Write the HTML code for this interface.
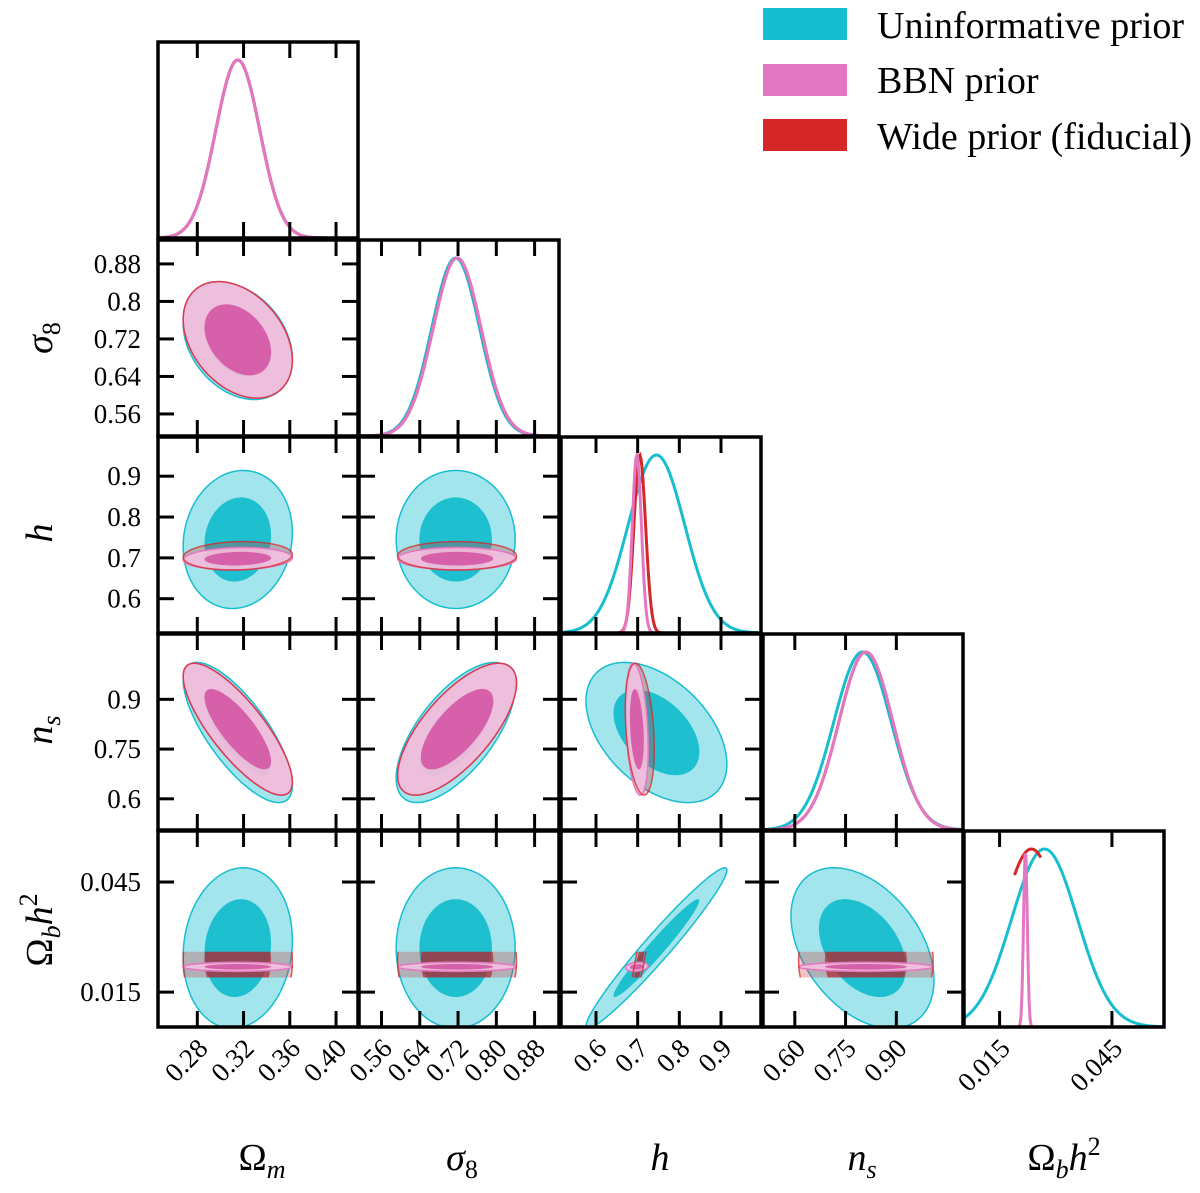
<!DOCTYPE html>
<html><head><meta charset="utf-8">
<style>
html,body{margin:0;padding:0;background:#fff;}
svg{display:block;font-family:"Liberation Serif","DejaVu Serif",serif;}
</style></head>
<body>
<svg id="chart" xmlns="http://www.w3.org/2000/svg" width="1200" height="1193" viewBox="0 0 1200 1193">
  <g id="panels"></g>
  <g id="legend">
    <rect x="763" y="8" width="84" height="32" fill="#17becf"/>
    <text x="877" y="38" font-size="38">Uninformative prior</text>
    <rect x="763" y="64" width="84" height="32" fill="#e377c2"/>
    <text x="877" y="93" font-size="38">BBN prior</text>
    <rect x="763" y="119" width="84" height="32" fill="#d62728"/>
    <text x="877" y="149" font-size="38">Wide prior (fiducial)</text>
  </g>
</svg>
<script>
// ---- data ----
const paramNames = ["Omega_m","sigma_8","h","n_s","Omega_b h^2"];
const axisMin = [0.246, 0.513, 0.516, 0.506, 0.0055];
const axisMax = [0.419, 0.931, 0.996, 1.097, 0.0589];
const ticksOm = [0.28, 0.32, 0.36, 0.40];
const ticksS8 = [0.56, 0.64, 0.72, 0.80, 0.88];
const ticksH = [0.6, 0.7, 0.8, 0.9];
const ticksNs = [0.60, 0.75, 0.90];
const ticksOb = [0.015, 0.045];
const xTickLabelsOm = ["0.28","0.32","0.36","0.40"];
const xTickLabelsS8 = ["0.56","0.64","0.72","0.80","0.88"];
const xTickLabelsH = ["0.6","0.7","0.8","0.9"];
const xTickLabelsNs = ["0.60","0.75","0.90"];
const xTickLabelsOb = ["0.015","0.045"];
const yTickLabelsS8 = ["0.56","0.64","0.72","0.8","0.88"];
const yTickLabelsH = ["0.6","0.7","0.8","0.9"];
const yTickLabelsNs = ["0.6","0.75","0.9"];
const yTickLabelsOb = ["0.015","0.045"];

// series: uninformative (cyan), BBN (pink), wide (red)
const meansCyan = [0.315, 0.715, 0.745, 0.80, 0.027];
const sdsCyan   = [0.019, 0.050, 0.068, 0.085, 0.0088];
const meansPink = [0.315, 0.718, 0.698, 0.81, 0.0219];
const sdsPink   = [0.019, 0.050, 0.011, 0.080, 0.0005];
const meansRed  = [0.315, 0.718, 0.705, 0.81, 0.0235];
const sdsRed    = [0.019, 0.050, 0.014, 0.080, 0.008];
// correlations in order: (0,1),(0,2),(0,3),(0,4),(1,2),(1,3),(1,4),(2,3),(2,4),(3,4)
const corrCyan = [-0.30, 0.10, -0.75, 0.10, 0.00, 0.65, 0.00, -0.45, 0.97, -0.40];
const corrPink = [-0.35, 0.10, -0.80, 0.00, 0.00, 0.70, 0.00, -0.30, 0.20, 0.00];
const corrRed  = [-0.35, 0.10, -0.80, 0.00, 0.00, 0.70, 0.00, -0.30, 0.95, 0.00];
const boundsLoRed = [null, null, null, null, 0.019];
const boundsHiRed = [null, null, null, null, 0.026];

// ---- layout ----
const colLeft = [158, 359, 561, 763, 964];
const rowTop = [42, 240, 437, 634, 831];
const PW = 200, PH = 196;
const ticksAll = [ticksOm, ticksS8, ticksH, ticksNs, ticksOb];
const xLabAll = [xTickLabelsOm, xTickLabelsS8, xTickLabelsH, xTickLabelsNs, xTickLabelsOb];
const yLabAll = [null, yTickLabelsS8, yTickLabelsH, yTickLabelsNs, yTickLabelsOb];

function xScale(p, v){ return colLeft[p] + (v-axisMin[p])/(axisMax[p]-axisMin[p])*PW; }
function yScale(p, v){ return rowTop[p] + PH - (v-axisMin[p])/(axisMax[p]-axisMin[p])*PH; }
function corrIdx(a,b){ if(a>b){const t=a;a=b;b=t;} const idx=[[0,0,1,2,3],[0,0,4,5,6],[0,0,0,7,8],[0,0,0,0,9]]; return idx[a][b]; }

const NS = "http://www.w3.org/2000/svg";
const root = document.getElementById('panels');
function mk(tag, attrs, parent){ const e=document.createElementNS(NS,tag); for(const k in attrs) e.setAttribute(k, attrs[k]); (parent||root).appendChild(e); return e; }

const defs = mk('defs', {}, document.getElementById('chart'));
const series = [
  {key:'uninformative', m:meansCyan, s:sdsCyan, c:corrCyan, lo:null, hi:null, stroke:'#17becf', fo:'rgba(23,190,207,0.4)', fi:'rgba(23,190,207,0.95)'},
  {key:'wide', m:meansRed, s:sdsRed, c:corrRed, lo:boundsLoRed, hi:boundsHiRed, stroke:'#d62728', fo:'rgba(214,39,40,0.28)', fi:'rgba(170,40,50,0.7)'},
  {key:'bbn', m:meansPink, s:sdsPink, c:corrPink, lo:null, hi:null, stroke:'#e377c2', fo:'rgba(242,192,224,0.92)', fi:'rgba(214,92,168,0.95)'}
];

function ellipsePath(S, px, py, r){
  const rho = S.c[corrIdx(px,py)];
  let d='';
  for(let k=0;k<=120;k++){
    const t=k/120*2*Math.PI;
    const vx=S.m[px]+S.s[px]*r*Math.cos(t);
    const vy=S.m[py]+S.s[py]*r*(rho*Math.cos(t)+Math.sqrt(1-rho*rho)*Math.sin(t));
    d+=(k?'L':'M')+xScale(px,vx).toFixed(2)+','+yScale(py,vy).toFixed(2);
  }
  return d+'Z';
}
function boundClip(S, px, py, id){
  let x0=colLeft[px], x1=colLeft[px]+PW, y0=rowTop[py], y1=rowTop[py]+PH;
  if(S.lo){
    if(S.lo[px]!==null) x0=Math.max(x0,xScale(px,S.lo[px]));
    if(S.hi[px]!==null) x1=Math.min(x1,xScale(px,S.hi[px]));
    if(S.lo[py]!==null) y1=Math.min(y1,yScale(py,S.lo[py]));
    if(S.hi[py]!==null) y0=Math.max(y0,yScale(py,S.hi[py]));
  }
  const cp=mk('clipPath',{id:id},defs);
  mk('rect',{x:x0,y:y0,width:x1-x0,height:y1-y0},cp);
  return 'url(#'+id+')';
}
const R1=Math.sqrt(-2*Math.log(1-0.6827)), R2=Math.sqrt(-2*Math.log(1-0.9545));

for(let row=0; row<5; row++){
  for(let col=0; col<=row; col++){
    const g = mk('g',{});
    
    
    const L=colLeft[col], T=rowTop[row];
    if(row===col){
      series.forEach(S=>{
        let a=axisMin[col], b=axisMax[col];
        if(S.lo && S.lo[col]!==null){ a=S.lo[col]; b=S.hi[col]; }
        let d='';
        for(let k=0;k<=200;k++){
          const v=a+(b-a)*k/200;
          const z=(v-S.m[col])/S.s[col];
          const y=T+PH - Math.exp(-0.5*z*z)*(PH-18);
          d+=(k?'L':'M')+xScale(col,v).toFixed(2)+','+y.toFixed(2);
        }
        const cid='c1d-'+row+'-'+S.key;
        const cp=mk('clipPath',{id:cid},defs); mk('rect',{x:L,y:T,width:PW,height:PH},cp);
        const p=mk('path',{d:d,fill:'none',stroke:S.stroke,'stroke-width':3,'clip-path':'url(#'+cid+')'},g);
        
        
      });
    } else {
      const px=col, py=row;
      const strokes=[];
      series.forEach(S=>{
        const clip=boundClip(S,px,py,'clip-'+row+'-'+col+'-'+S.key);
        const sg=mk('g',{'clip-path':clip},g);
        
        
        const o=mk('path',{d:ellipsePath(S,px,py,R2),fill:S.fo,stroke:S.key==='wide'?'none':S.stroke,'stroke-width':1.5},sg);
        
        
        const i=mk('path',{d:ellipsePath(S,px,py,R1),fill:S.fi,stroke:'none'},sg);
        
        
        if(S.key==='wide') strokes.push({S:S,clip:clip});
      });
      strokes.forEach(o=>{
        const sg=mk('g',{'clip-path':o.clip},g);
        const e=mk('path',{d:ellipsePath(o.S,px,py,R2),fill:'none',stroke:o.S.stroke,'stroke-width':1.5,'stroke-opacity':0.75},sg);
        
        
      });
      ticksAll[py].forEach(v=>{
        const y=yScale(py,v);
        mk('line',{x1:L,x2:L+16,y1:y,y2:y,stroke:'#000','stroke-width':3},g);
        mk('line',{x1:L+PW-16,x2:L+PW,y1:y,y2:y,stroke:'#000','stroke-width':3},g);
      });
    }
    ticksAll[col].forEach(v=>{
      const x=xScale(col,v);
      mk('line',{x1:x,x2:x,y1:T,y2:T+16,stroke:'#000','stroke-width':3},g);
      mk('line',{x1:x,x2:x,y1:T+PH-16,y2:T+PH,stroke:'#000','stroke-width':3},g);
    });
    const fr=mk('rect',{x:L,y:T,width:PW,height:PH,fill:'none',stroke:'#000','stroke-width':3.5},g);
    
    
  }
}
for(let col=0; col<5; col++){
  ticksAll[col].forEach((v,k)=>{
    const x=xScale(col,v);
    const t=mk('text',{x:x+12,y:1050,'font-size':27,'text-anchor':'end',transform:'rotate(-45 '+(x+12)+' 1050)'});
    t.textContent=xLabAll[col][k];
    
    
  });
}
for(let row=1; row<5; row++){
  ticksAll[row].forEach((v,k)=>{
    const y=yScale(row,v);
    const t=mk('text',{x:141,y:y+9,'font-size':27,'text-anchor':'end'});
    t.textContent=yLabAll[row][k];
    
    
  });
}
const xTitles=[
  {x:262, html:'Ω<tspan font-style="italic" font-size="26" dy="8">m</tspan>'},
  {x:462, html:'<tspan font-style="italic">σ</tspan><tspan font-size="26" dy="8">8</tspan>'},
  {x:660, html:'<tspan font-style="italic">h</tspan>'},
  {x:862, html:'<tspan font-style="italic">n</tspan><tspan font-style="italic" font-size="26" dy="8">s</tspan>'},
  {x:1064, html:'Ω<tspan font-style="italic" font-size="26" dy="8">b</tspan><tspan font-style="italic" dy="-8">h</tspan><tspan font-size="26" dy="-15">2</tspan>'}
];
xTitles.forEach((o,i)=>{
  const t=mk('text',{x:o.x,y:1170,'font-size':38,'text-anchor':'middle'});
  t.innerHTML=o.html;
  
  
});
const yTitles=[
  {y:338, html:'<tspan font-style="italic">σ</tspan><tspan font-size="26" dy="8">8</tspan>'},
  {y:533, html:'<tspan font-style="italic">h</tspan>'},
  {y:730, html:'<tspan font-style="italic">n</tspan><tspan font-style="italic" font-size="26" dy="8">s</tspan>'},
  {y:930, html:'Ω<tspan font-style="italic" font-size="26" dy="8">b</tspan><tspan font-style="italic" dy="-8">h</tspan><tspan font-size="26" dy="-15">2</tspan>'}
];
yTitles.forEach((o,i)=>{
  const t=mk('text',{x:0,y:0,'font-size':38,'text-anchor':'middle',transform:'translate(52 '+o.y+') rotate(-90)'});
  t.innerHTML=o.html;
  
  
});
</script>
</body></html>
